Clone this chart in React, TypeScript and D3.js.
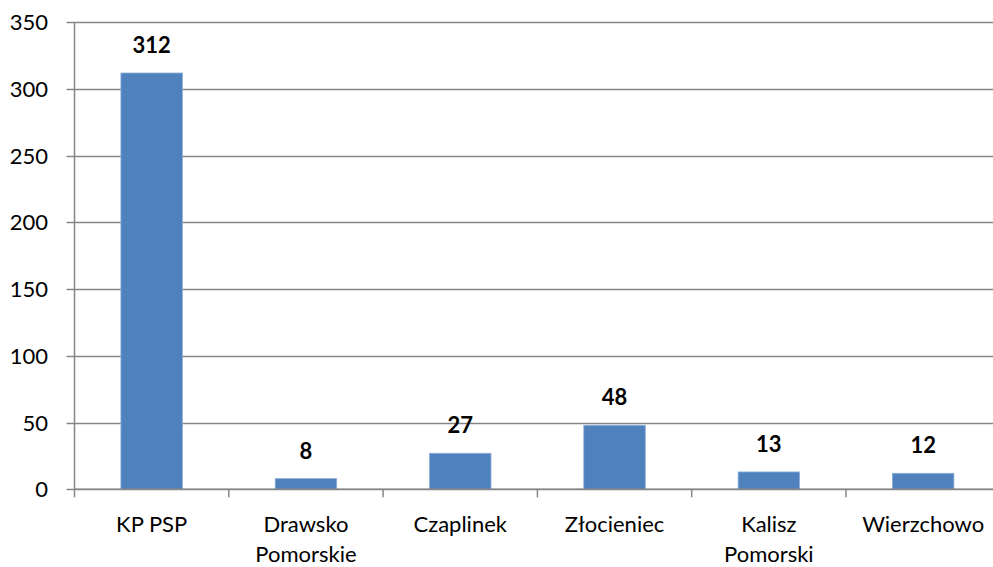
import React from "react";
import * as d3 from "d3";

const categories: string[][] = [
  ["KP PSP"],
  ["Drawsko", "Pomorskie"],
  ["Czaplinek"],
  ["Złocieniec"],
  ["Kalisz", "Pomorski"],
  ["Wierzchowo"],
];
const values: number[] = [312, 8, 27, 48, 13, 12];
const yTicks: number[] = [0, 50, 100, 150, 200, 250, 300, 350];

export default function App() {
  const W = 993;
  const H = 567;
  const left = 74.5;
  const right = 1000.3;
  const top = 22.3;
  const bottom = 489.3;
  const font = "Lato, 'Open Sans', sans-serif";
  const fs = 22;

  const x = d3
    .scaleBand<number>()
    .domain(values.map((_, i) => i))
    .range([left, right]);
  const y = d3.scaleLinear().domain([0, 350]).range([bottom, top]);
  const catW = x.step();
  const barW = 61.5;
  const grid = "#868686";

  return (
    <div style={{ position: "fixed", left: 0, top: 0, width: W, height: H, overflow: "hidden" }}>
      <svg width={W} height={H} style={{ display: "block", background: "#fff" }}>
        {yTicks.map((t) => (
          <g key={t}>
            <line x1={left - 8} x2={right} y1={Math.round(y(t)) + 0.5} y2={Math.round(y(t)) + 0.5} stroke={grid} strokeWidth={1.5} />
            <text x={48} y={y(t) + 8} textAnchor="end" fontFamily={font} fontSize={fs} fill="#000">
              {t}
            </text>
          </g>
        ))}
        <line x1={left} x2={left} y1={top} y2={bottom + 8} stroke={grid} strokeWidth={1.5} />
        {values.map((_, i) => (
          <line key={"t" + i} x1={(x(i) as number) + catW} x2={(x(i) as number) + catW} y1={bottom} y2={bottom + 8} stroke={grid} strokeWidth={1.5} />
        ))}
        {values.map((v, i) => {
          const cx = (x(i) as number) + catW / 2;
          return (
            <g key={i}>
              <rect x={cx - barW / 2} y={y(v)} width={barW} height={bottom - y(v)} fill="#4F81BD" stroke="#8EB0DA" strokeWidth={0.8} />
              <text x={cx} y={y(v) - 20} textAnchor="middle" fontFamily={font} fontWeight="bold" fontSize={fs} fill="#000">
                {v}
              </text>
              {categories[i].map((line, j) => (
                <text key={j} x={cx} y={532 + j * 30} textAnchor="middle" fontFamily={font} fontSize={fs} fill="#000">
                  {line}
                </text>
              ))}
            </g>
          );
        })}
        <line x1={left} x2={right} y1={bottom} y2={bottom} stroke={grid} strokeWidth={1.5} />
      </svg>
    </div>
  );
}
